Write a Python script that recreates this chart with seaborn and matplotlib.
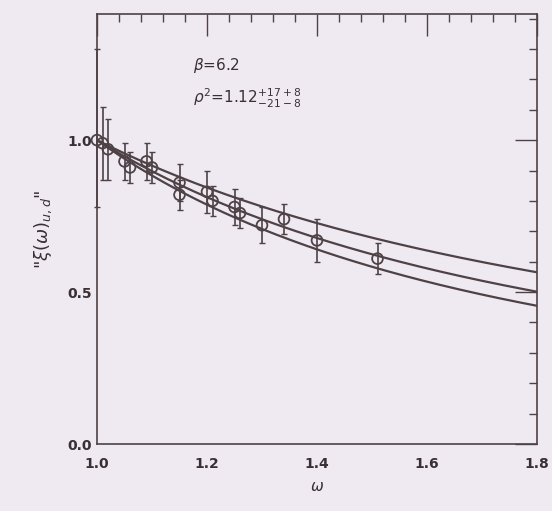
import numpy as np
import pandas as pd
import matplotlib
matplotlib.use("Agg")
import matplotlib.pyplot as plt
import seaborn as sns
from matplotlib.ticker import MultipleLocator

# Lattice data for the light-quark Isgur-Wise function at beta = 6.2
omega = [1.00, 1.01, 1.02, 1.05, 1.06, 1.09, 1.10, 1.15, 1.15, 1.20, 1.21, 1.25, 1.26, 1.30, 1.34, 1.40, 1.51]
xi = [1.00, 0.99, 0.97, 0.93, 0.91, 0.93, 0.91, 0.86, 0.82, 0.83, 0.80, 0.78, 0.76, 0.72, 0.74, 0.67, 0.61]
err_lo = [0.22, 0.12, 0.10, 0.06, 0.05, 0.06, 0.05, 0.06, 0.05, 0.07, 0.05, 0.06, 0.05, 0.06, 0.05, 0.07, 0.05]
err_hi = [0.30, 0.12, 0.10, 0.06, 0.05, 0.06, 0.05, 0.06, 0.05, 0.07, 0.05, 0.06, 0.05, 0.06, 0.05, 0.07, 0.05]

# Fitted slope parameter: central value and the two bounding values
rho2_fits = [0.91, 1.12, 1.29]

x_ticks = [1.0, 1.2, 1.4, 1.6, 1.8]
y_ticks = [0.0, 0.5, 1.0]

ink = "#4e4246"
text_ink = "#3a3034"
paper = "#efeaf1"

sns.set_theme(style="white")
plt.rcParams["font.family"] = ["DejaVu Sans"]

fig = plt.figure(figsize=(5.52, 5.11), dpi=100, facecolor=paper)
ax = fig.add_axes([97 / 552, 1 - 444 / 511, 440 / 552, 430 / 511])
ax.set_facecolor(paper)

# Fit curves xi(w) = 2/(w+1) * exp(-(2 rho^2 - 1)(w-1)/(w+1))
w = np.linspace(1.0, 1.8, 200)
curves = pd.concat(
    [pd.DataFrame({"w": w,
                   "xi": 2 / (w + 1) * np.exp(-(2 * r - 1) * (w - 1) / (w + 1)),
                   "rho2": r}) for r in rho2_fits],
    ignore_index=True,
)
sns.lineplot(data=curves, x="w", y="xi", units="rho2", estimator=None,
             color=ink, lw=1.6, ax=ax, legend=False)

pts = pd.DataFrame({"omega": omega, "xi": xi})
eb = ax.errorbar(omega, xi, yerr=[err_lo, err_hi], fmt="none", ecolor=ink,
                 elinewidth=1.2, capsize=2.5, capthick=1.0)
for art in eb.get_children():
    art.set_clip_on(False)
sns.scatterplot(data=pts, x="omega", y="xi", s=60, facecolor="none",
                edgecolor=ink, linewidth=1.3, ax=ax, zorder=5, clip_on=False)

ax.set_xlim(1.0, 1.8)
ax.set_ylim(0.0, 1.415)
ax.set_xticks(x_ticks)
ax.set_yticks(y_ticks)
ax.set_xticklabels([f"{t:.1f}" for t in x_ticks], fontweight="bold")
ax.set_yticklabels([f"{t:.1f}" for t in y_ticks], fontweight="bold")
ax.xaxis.set_minor_locator(MultipleLocator(0.04))
ax.yaxis.set_minor_locator(MultipleLocator(0.1))
ax.tick_params(which="both", direction="in", top=True, right=True,
               colors=ink, labelcolor=text_ink, labelsize=10)
ax.tick_params(which="major", length=16, width=1.0)
ax.tick_params(which="minor", length=6, width=1.0)
ax.tick_params(axis="x", pad=9)
for s in ax.spines.values():
    s.set_color(ink)
    s.set_linewidth(1.2)

ax.set_xlabel(r"$\omega$", fontsize=11, color=text_ink, labelpad=6)
ax.set_ylabel(r'"$\xi(\omega)_{u,d}$"', fontsize=13, color=text_ink, labelpad=10)

ax.text(1.175, 1.23, r"$\beta$=6.2", fontsize=11, color=text_ink)
ax.text(1.175, 1.12, r"$\rho^2$=1.12$^{+17+8}_{-21-8}$", fontsize=11, color=text_ink)

fig.savefig("out.png", dpi=100, facecolor=paper)
